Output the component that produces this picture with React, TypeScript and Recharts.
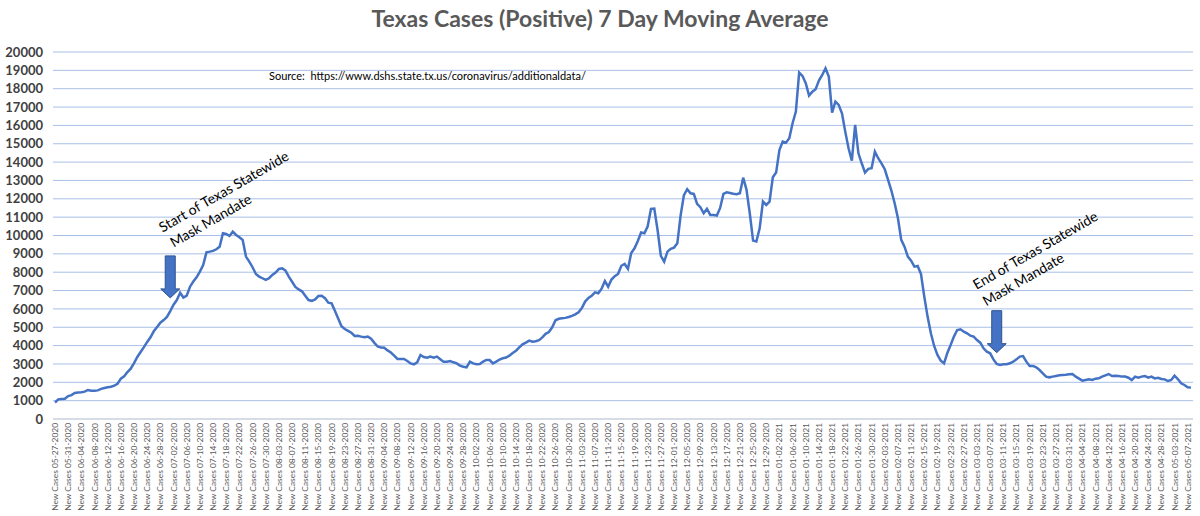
import { LineChart, Line, XAxis, YAxis, CartesianGrid, ReferenceDot } from 'recharts'

// 7 day moving average of new positive cases, one value per day from 05-27-2020
const cases = [
  900, 1070, 1090, 1100, 1250, 1300, 1420, 1440, 1460, 1490,
  1580, 1545, 1545, 1560, 1640, 1690, 1730, 1760, 1820, 1920,
  2200, 2330, 2560, 2740, 3050, 3380, 3650, 3920, 4200, 4450,
  4780, 5020, 5250, 5390, 5560, 5880, 6230, 6480, 6880, 6620,
  6720, 7210, 7490, 7720, 8030, 8390, 9085, 9120, 9160, 9250,
  9390, 10120, 10085, 9975, 10210, 10030, 9900, 9760, 8850, 8580,
  8270, 7900, 7760, 7670, 7580, 7670, 7850, 7980, 8180, 8210,
  8090, 7760, 7480, 7200, 7060, 6960, 6720, 6480, 6440, 6520,
  6700, 6720, 6580, 6340, 6300, 5900, 5480, 5050, 4905, 4800,
  4700, 4525, 4540, 4490, 4450, 4490, 4380, 4150, 3950, 3890,
  3880, 3740, 3620, 3450, 3270, 3270, 3270, 3160, 3030, 2980,
  3090, 3490, 3380, 3340, 3400, 3340, 3400, 3260, 3125, 3125,
  3160, 3090, 3030, 2910, 2850, 2815, 3125, 3030, 2980, 3000,
  3125, 3215, 3215, 3030, 3125, 3240, 3310, 3350, 3450, 3600,
  3720, 3900, 4070, 4160, 4270, 4215, 4240, 4300, 4450, 4640,
  4740, 5000, 5380, 5460, 5490, 5510, 5560, 5620, 5700, 5820,
  6050, 6400, 6600, 6720, 6900, 6850, 7100, 7520, 7210, 7600,
  7780, 7900, 8350, 8450, 8180, 9050, 9300, 9700, 10160, 10120,
  10500, 11450, 11470, 10300, 8885, 8575, 9120, 9270, 9340, 9575,
  11100, 12200, 12520, 12300, 12265, 11720, 11540, 11210, 11450, 11120,
  11120, 11085, 11500, 12265, 12355, 12320, 12280, 12250, 12300, 13150,
  12500, 11210, 9720, 9670, 10390, 11850, 11665, 11850, 13170, 13430,
  14660, 15120, 15060, 15300, 16120, 16750, 18880, 18700, 18300, 17625,
  17840, 17970, 18440, 18750, 19115, 18660, 16700, 17300, 17120, 16660,
  15660, 14755, 14080, 16025, 14480, 13935, 13430, 13630, 13665, 14570,
  14210, 13935, 13610, 13030, 12450, 11755, 10940, 9760, 9390, 8850,
  8630, 8300, 8340, 7900, 6670, 5580, 4670, 3980, 3490, 3180,
  3035, 3600, 4030, 4490, 4850, 4890, 4760, 4670, 4540, 4490,
  4305, 4160, 3850, 3670, 3580, 3250, 3000, 2940, 2980, 2980,
  3035, 3125, 3250, 3400, 3430, 3125, 2890, 2890, 2815, 2670,
  2490, 2310, 2270, 2310, 2345, 2380, 2400, 2415, 2435, 2450,
  2310, 2200, 2090, 2125, 2160, 2125, 2200, 2215, 2310, 2380,
  2450, 2345, 2360, 2345, 2310, 2310, 2250, 2125, 2310, 2250,
  2310, 2345, 2250, 2310, 2215, 2250, 2180, 2160, 2070, 2125,
  2360, 2180, 1945, 1855, 1725, 1710,
]

// the source sheet has no row for this date
const skippedDates = ['05-01-2021']
const yTicks = [0, 1000, 2000, 3000, 4000, 5000, 6000, 7000, 8000, 9000, 10000,
  11000, 12000, 13000, 14000, 15000, 16000, 17000, 18000, 19000, 20000]

const annotations = [
  { date: '07-01-2020', value: 6600, lines: ['Start of Texas Statewide', 'Mask Mandate'], off: [[56, -102], [43, -73]] },
  { date: '03-09-2021', value: 3615, lines: ['End of Texas Statewide', 'Mask Mandate'], off: [[41, -98], [29, -69]] },
]

const pad = (n: number) => String(n).padStart(2, '0')

function buildDays(count: number) {
  const out: string[] = []
  let t = Date.UTC(2020, 4, 27)
  while (out.length < count) {
    const d = new Date(t)
    const s = `${pad(d.getUTCMonth() + 1)}-${pad(d.getUTCDate())}-${d.getUTCFullYear()}`
    if (!skippedDates.includes(s)) out.push(s)
    t += 86400000
  }
  return out
}

const days = buildDays(cases.length)
const data = days.map((d, i) => ({ day: 'New Cases ' + d, cases: cases[i] }))

const FONT = 'Lato, "Liberation Sans", sans-serif'

const DayTick = ({ x, y, payload }: { x?: number; y?: number; payload?: { value: string } }) => {
  const ty = (y ?? 0) + 4
  return (
    <text x={x} y={ty} transform={`rotate(-90, ${x}, ${ty})`} textAnchor="end" dominantBaseline="central"
      fontSize={8.4} fill="#595959" fontFamily={FONT}>
      {payload?.value}
    </text>
  )
}

const arrowShape = (lines: string[], off: number[][]) => (p: { cx?: number; cy?: number }) => {
  const cx = p.cx ?? 0
  const cy = p.cy ?? 0
  const pts = [
    [cx - 5, cy - 42], [cx + 5, cy - 42], [cx + 5, cy - 9], [cx + 9.5, cy - 9],
    [cx, cy], [cx - 9.5, cy - 9], [cx - 5, cy - 9],
  ].map(q => q.join(',')).join(' ')
  return (
    <g>
      <polygon points={pts} fill="#4472C4" stroke="#2F528F" strokeWidth={1} />
      {lines.map((t, i) => {
        const tx = cx + off[i][0]
        const ty = cy + off[i][1]
        return (
          <text key={i} x={tx} y={ty} transform={`rotate(-30, ${tx}, ${ty})`} textAnchor="middle"
            fontSize={14} fill="#000" fontFamily={FONT}>{t}</text>
        )
      })}
    </g>
  )
}

export default function App() {
  return (
    <div style={{ position: 'absolute', left: 0, top: 0, width: 1200, height: 516, background: '#fff' }}>
      <LineChart width={1200} height={516} data={data} margin={{ top: 52, right: 7, bottom: 0, left: 0 }}>
        <CartesianGrid stroke="#A9C0E8" vertical={false} />
        <XAxis
          dataKey="day"
          interval={3}
          height={97}
          tick={<DayTick />}
          tickLine={false}
          tickSize={0}
          tickMargin={0}
          axisLine={{ stroke: '#D9D9D9' }}
          padding={{ left: 2, right: 2 }}
        />
        <YAxis
          domain={[0, 20000]}
          ticks={yTicks}
          interval={0}
          width={53}
          axisLine={false}
          tickLine={false}
          tickMargin={4}
          tick={{ fontSize: 13, fontWeight: 700, fill: '#404040', fontFamily: FONT }}
        />
        <Line
          type="linear"
          dataKey="cases"
          stroke="#4472C4"
          strokeWidth={2.5}
          dot={false}
          isAnimationActive={false}
        />
        {annotations.map(a => (
          <ReferenceDot key={a.date} x={'New Cases ' + a.date} y={a.value} shape={arrowShape(a.lines, a.off)} />
        ))}
      </LineChart>
      <svg width={1200} height={516} style={{ position: 'absolute', left: 0, top: 0, pointerEvents: 'none' }}>
        <text x={600} y={27} textAnchor="middle" fontSize={23} fontWeight={700} fill="#595959" fontFamily={FONT}>
          Texas Cases (Positive) 7 Day Moving Average
        </text>
        <text x={269} y={80} fontSize={11} fill="#000" fontFamily={FONT} style={{ whiteSpace: 'pre' }}>
          {'Source:  https://www.dshs.state.tx.us/coronavirus/additionaldata/'}
        </text>
      </svg>
    </div>
  )
}
